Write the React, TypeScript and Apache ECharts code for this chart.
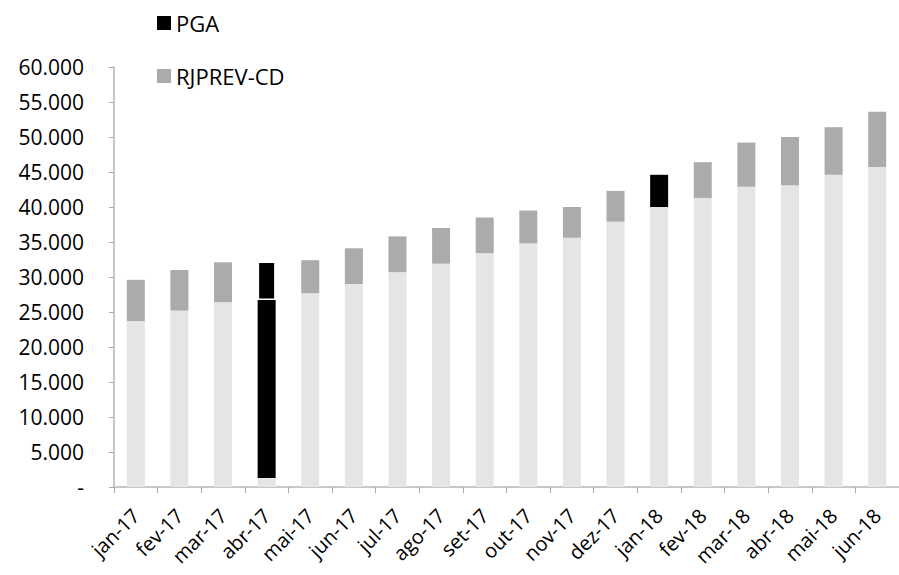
import React, { useEffect, useRef } from "react";
import * as echarts from "echarts";

const categories = ["jan-17", "fev-17", "mar-17", "abr-17", "mai-17", "jun-17", "jul-17", "ago-17", "set-17", "out-17", "nov-17", "dez-17", "jan-18", "fev-18", "mar-18", "abr-18", "mai-18", "jun-18"];
// light gray base portion
const baseValues = [23700, 25200, 26400, 1300, 27700, 29000, 30700, 31900, 33400, 34800, 35600, 37900, 40000, 41300, 42900, 43100, 44600, 45700];
// black lower portion (abr-17 only)
const pgaLower = [null, null, null, 25400, null, null, null, null, null, null, null, null, null, null, null, null, null, null];
// gray top portion RJPREV-CD
const rjprevValues = [5900, 5800, 5700, null, 4700, 5100, 5100, 5100, 5100, 4700, 4400, 4400, null, 5100, 6300, 6900, 6800, 7900];
// black top portion PGA
const pgaTop = [null, null, null, 5500, null, null, null, null, null, null, null, null, 4600, null, null, null, null, null];
const yTicks = [0, 5000, 10000, 15000, 20000, 25000, 30000, 35000, 40000, 45000, 50000, 55000, 60000];

const FONT = "'Open Sans', Lato, sans-serif";

export default function App() {
  const ref = useRef<HTMLDivElement>(null);
  useEffect(() => {
    document.body.style.margin = "0";
    const chart = echarts.init(ref.current!, null, { renderer: "svg" });
    const fmt = (v: number) => (v === 0 ? "-" : v.toLocaleString("de-DE"));
    chart.setOption({
      animation: false,
      textStyle: { fontFamily: FONT },
      legend: {
        data: ["PGA", "RJPREV-CD"],
        orient: "vertical",
        left: 152,
        top: 7,
        itemWidth: 14,
        itemHeight: 14,
        itemGap: 31,
        icon: "rect",
        textStyle: { fontFamily: FONT, fontSize: 22, color: "#000" },
      },
      grid: { left: 114, right: 0, top: 67, bottom: 88, outerBoundsMode: "none", containLabel: false },
      xAxis: {
        type: "category",
        data: categories,
        axisLine: { lineStyle: { color: "#b5b5b5", width: 1.5 } },
        axisTick: { show: true, length: 6, lineStyle: { color: "#aaa" } },
        axisLabel: { rotate: 45, fontSize: 20, color: "#000", margin: 25, fontFamily: FONT },
      },
      yAxis: {
        type: "value",
        min: yTicks[0],
        max: yTicks[yTicks.length - 1],
        interval: 5000,
        splitLine: { show: false },
        axisLine: { show: true, lineStyle: { color: "#b5b5b5", width: 1.5 } },
        axisTick: { show: true, length: 5, lineStyle: { color: "#aaa" } },
        axisLabel: { formatter: fmt, fontSize: 21, color: "#000", margin: 30, fontFamily: FONT },
      },
      series: [
        { name: "base", type: "bar", stack: "s", data: baseValues, barWidth: 18, itemStyle: { color: "#e5e5e5" } },
        { name: "PGA", type: "bar", stack: "s", data: pgaLower, barWidth: 18, itemStyle: { color: "#000" } },
        { name: "RJPREV-CD", type: "bar", stack: "s", data: rjprevValues, barWidth: 18, itemStyle: { color: "#ababab" } },
        {
          name: "PGA",
          type: "bar",
          stack: "s",
          barWidth: 18,
          itemStyle: { color: "#000" },
          data: pgaTop.map((v, i) =>
            v === null ? null : i === 3 ? { value: v, itemStyle: { borderColor: "#fff", borderWidth: 1.5 } } : v
          ),
        },
      ],
    });
    return () => chart.dispose();
  }, []);
  return <div ref={ref} style={{ width: 899, height: 575 }} />;
}
